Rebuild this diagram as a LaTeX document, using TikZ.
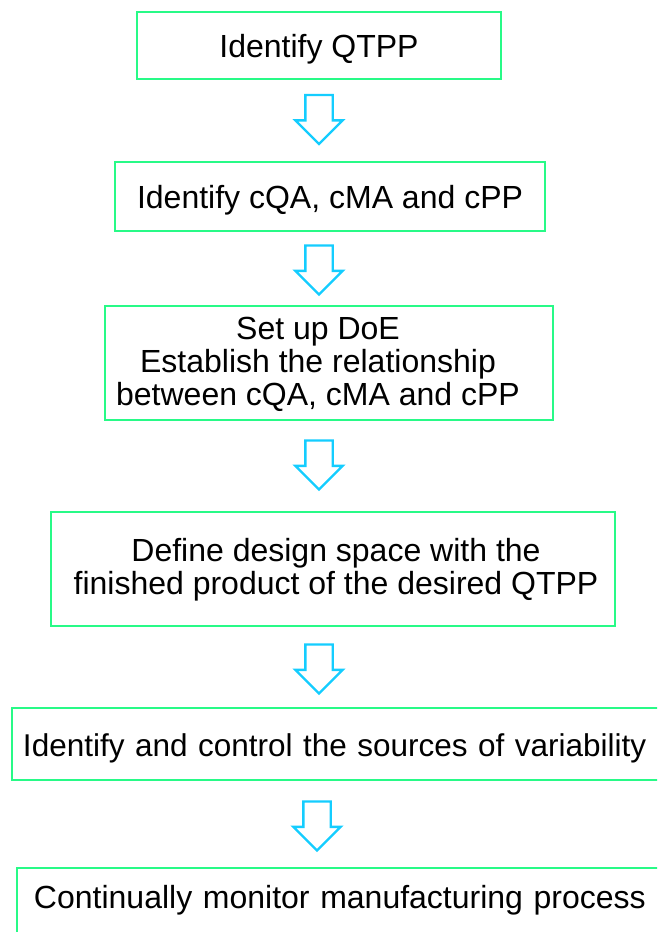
\documentclass[tikz,border=0pt]{standalone}
\usepackage{fontspec}
\setmainfont{Liberation Sans}
\usetikzlibrary{shapes.arrows}
\definecolor{boxgreen}{RGB}{40,250,135}
\definecolor{arrowblue}{RGB}{20,205,255}
\newcommand{\stepfont}{\fontsize{32}{33}\selectfont}

\begin{document}
\begin{tikzpicture}[x=1pt,y=-1pt,
	box/.style={draw=boxgreen,line width=2pt,fill=white,align=center,inner sep=0pt,font=\stepfont},
	oneline/.style={text height=26pt,text depth=2pt},
	downarrow/.style={single arrow,draw=arrowblue,line width=2.4pt,fill=white,shape border rotate=270,
		minimum height=49pt,minimum width=45pt,single arrow head extend=10pt,
		single arrow tip angle=90,inner sep=12.5pt,outer sep=0pt,anchor=tip}]
			\clip (0,0) rectangle (657,932);
			\fill[white] (0,0) rectangle (657,932);

			\node[box,oneline,minimum width=364pt,minimum height=67pt] (qtpp) at (319,45.5) {Identify QTPP};
			\node[box,oneline,minimum width=430pt,minimum height=69pt] (attr) at (330,196.5) {Identify cQA, cMA and cPP};
			% frame and text of the DoE step sit off centre
			\node[box,minimum width=448pt,minimum height=114pt] (doe) at (329,363) {};
			\node[align=center,font=\stepfont,inner sep=0pt] (doetext) at (318,364)
				{Set up DoE\\Establish the relationship\\between cQA, cMA and cPP};
			\node[box,minimum width=564pt,minimum height=114pt] (space) at (333,569) {};
			\node[align=center,font=\stepfont,inner sep=0pt] (spacetext) at (336,570)
				{Define design space with the\\finished product of the desired QTPP};
			\node[box,oneline,anchor=west,text width=645pt,align=left,inner xsep=11pt,minimum height=71.5pt,
				font=\fontsize{31.5}{33}\selectfont] (vary) at (11,744)
				{Identify and control the sources of variability};
			\node[box,anchor=north west,text width=640pt,align=left,inner xsep=17pt,text height=40pt,text depth=50pt] (watch) at (16,867)
				{Continually monitor manufacturing process};

			% hollow arrows, placed by their tips
			\node[downarrow] (a1) at (319,144) {};
			\node[downarrow] (a2) at (319,294.5) {};
			\node[downarrow] (a3) at (319,489.5) {};
			\node[downarrow] (a4) at (319,693.5) {};
			\node[downarrow] (a5) at (317,850.5) {};
		\end{tikzpicture}
\end{document}
